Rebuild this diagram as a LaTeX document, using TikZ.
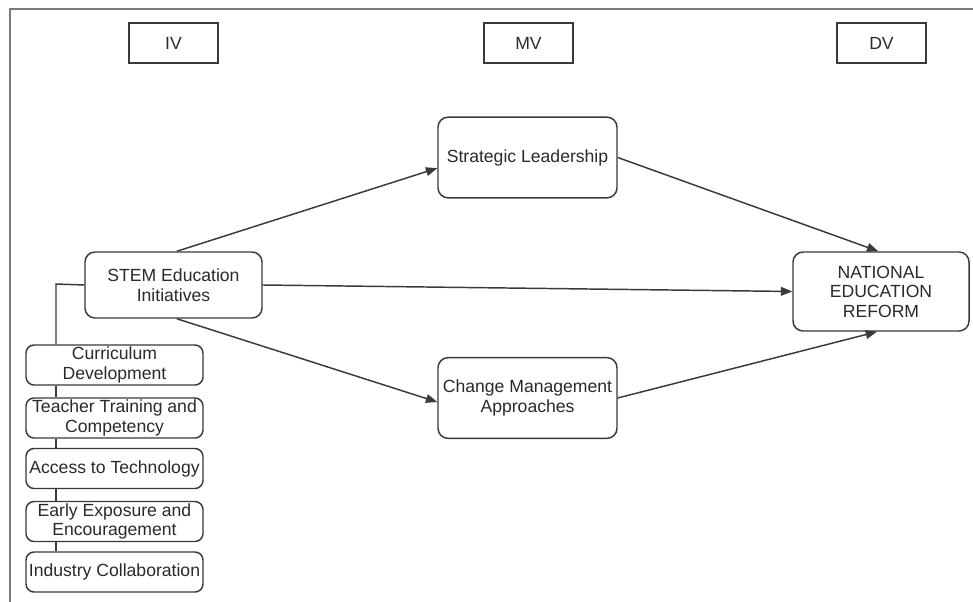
\documentclass[tikz,border=0pt]{standalone}
\usepackage{fontspec}
\setmainfont{Liberation Sans}
\usetikzlibrary{arrows.meta}
\definecolor{txt}{HTML}{2A2A2A}
\definecolor{edge}{HTML}{3A3A3A}
\definecolor{frame}{HTML}{7A7A7A}
\begin{document}
\begin{tikzpicture}[x=0.75pt,y=-0.75pt,
  base/.style={draw=edge,line width=1.1pt,text=txt,align=center,inner sep=1pt,
    font=\fontsize{13.2}{14.6}\selectfont},
  varbox/.style={base,rectangle,minimum width=66.75pt,minimum height=30pt},
  mainbox/.style={base,rounded corners=7.5pt,minimum width=134.25pt,minimum height=60.5pt},
  subbox/.style={base,rounded corners=6pt,minimum width=132.75pt,minimum height=30pt},
  link/.style={draw=edge,line width=1.1pt},
  arr/.style={link,-{Triangle[length=8.5pt,width=6.5pt]}}]
\useasboundingbox (0,0) rectangle (973,602);
\fill[white] (0,0) rectangle (973,602);
\draw[frame,line width=1.5pt] (9.5,602) -- (9.5,9.5) -- (973,9.5);

\node[varbox] (iv) at (173.5,43) {IV};
\node[varbox] (mv) at (528.5,43) {MV};
\node[varbox] (dv) at (881.5,43) {DV};

\node[mainbox] (strat) at (527.5,157.5) {Strategic Leadership};
\node[mainbox] (chg) at (527.5,398) {Change Management\\Approaches};
\node[mainbox,minimum width=132pt,minimum height=59.25pt] (nat) at (881,291.5) {NATIONAL\\EDUCATION\\REFORM};
\node[mainbox,minimum width=132.75pt,minimum height=49.5pt] (stem) at (173.5,285) {STEM Education\\Initiatives};

\node[subbox] (curr) at (114.5,365) {Curriculum\\Development};
\node[subbox] (teach) at (114.5,418) {Teacher Training and\\Competency};
\node[subbox] (acc) at (114.5,468.5) {Access to Technology};
\node[subbox] (early) at (114.5,521.5) {Early Exposure and\\Encouragement};
\node[subbox] (ind) at (114.5,572) {Industry Collaboration};

\coordinate (tr) at (56,284);
\draw[link] (stem.west) -- (tr) -- (tr |- curr.north);
\draw[link] (tr |- curr.south) -- (tr |- teach.north);
\draw[link] (tr |- teach.south) -- (tr |- acc.north);
\draw[link] (tr |- acc.south) -- (tr |- early.north);
\draw[link] (tr |- early.south) -- (tr |- ind.north);

\draw[arr] ([xshift=2.5pt]stem.north) -- ([yshift=-8pt]strat.west);
\draw[arr] (stem.east) -- (nat.west);
\draw[arr] ([xshift=2.5pt]stem.south) -- ([yshift=-3pt]chg.west);
\draw[arr] (strat.east) -- ([xshift=-2pt]nat.north);
\draw[arr] (chg.east) -- ([xshift=-3pt]nat.south);
\end{tikzpicture}
\end{document}
